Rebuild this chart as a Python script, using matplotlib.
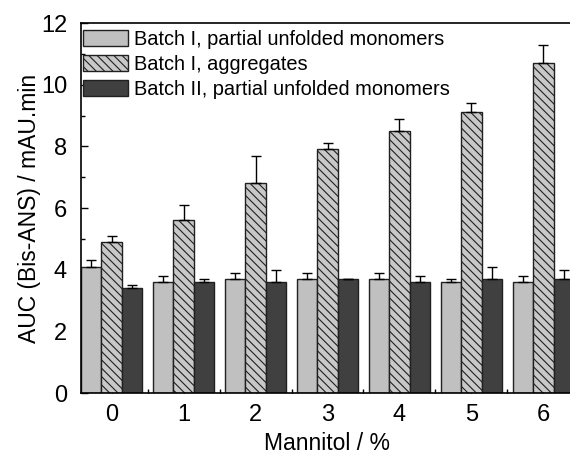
import numpy as np
import matplotlib
matplotlib.use("Agg")
import matplotlib.pyplot as plt
from matplotlib.ticker import MultipleLocator

plt.rcParams['font.family'] = ['Liberation Sans', 'DejaVu Sans']
plt.rcParams['hatch.linewidth'] = 0.8

mannitol = [0, 1, 2, 3, 4, 5, 6]
labels = ["Batch I, partial unfolded monomers",
          "Batch I, aggregates",
          "Batch II, partial unfolded monomers"]

batch1_mono = [4.1, 3.6, 3.7, 3.7, 3.7, 3.6, 3.6]
batch1_mono_err = [0.2, 0.2, 0.2, 0.2, 0.2, 0.1, 0.2]
batch1_aggr = [4.9, 5.6, 6.8, 7.9, 8.5, 9.1, 10.7]
batch1_aggr_err = [0.2, 0.5, 0.9, 0.2, 0.4, 0.3, 0.6]
batch2_mono = [3.4, 3.6, 3.6, 3.7, 3.6, 3.7, 3.7]
batch2_mono_err = [0.1, 0.1, 0.4, 0.0, 0.2, 0.4, 0.3]

fig = plt.figure(figsize=(5.7, 4.55), dpi=100)
ax = fig.add_axes([81/570, 1 - 393/455, (574 - 81)/570, (393 - 23)/455])

x = np.array(mannitol, dtype=float)
w = 0.285
series = [
    (batch1_mono, batch1_mono_err, dict(color='#c0c0c0', hatch=None)),
    (batch1_aggr, batch1_aggr_err, dict(color='#c8c8c8', hatch='\\\\\\\\')),
    (batch2_mono, batch2_mono_err, dict(color='#404040', hatch=None)),
]
for i, (vals, errs, st) in enumerate(series):
    pos = x + (i - 1) * w
    ax.bar(pos, vals, w, color=st['color'], edgecolor='#202020', linewidth=1.0,
           hatch=st['hatch'], label=labels[i], zorder=2)
    ax.errorbar(pos, vals, yerr=[np.zeros(len(vals)), errs], fmt='none',
                ecolor='black', elinewidth=1.0, capsize=3.5, capthick=1.0, zorder=3)

ax.set_xlim(-0.427, 6.427)
ax.set_ylim(0, 12)
ax.set_xticks(mannitol)
ax.xaxis.set_minor_locator(MultipleLocator(0.5))
ax.yaxis.set_major_locator(MultipleLocator(2))
ax.yaxis.set_minor_locator(MultipleLocator(1))
ax.tick_params(which='both', direction='in', top=False, right=False,
               labelsize=17, width=1.0)
ax.tick_params(which='major', length=5)
ax.tick_params(which='minor', length=3)
ax.tick_params(axis='x', which='major', pad=8)
ax.tick_params(axis='y', which='major', pad=10)
for sp in ax.spines.values():
    sp.set_linewidth(1.2)

ax.set_xlabel("Mannitol / %", fontsize=16.5, labelpad=4.5)
ax.set_ylabel("AUC (Bis-ANS) / mAU.min", fontsize=16.5, labelpad=0)

ax.legend(loc='upper left', bbox_to_anchor=(-0.01, 1.0), frameon=False,
          fontsize=14.4, handlelength=2.25, handleheight=0.85,
          labelspacing=0.31, handletextpad=0.3,
          borderaxespad=0.0, borderpad=0.35)

fig.savefig("out.png", dpi=100)
